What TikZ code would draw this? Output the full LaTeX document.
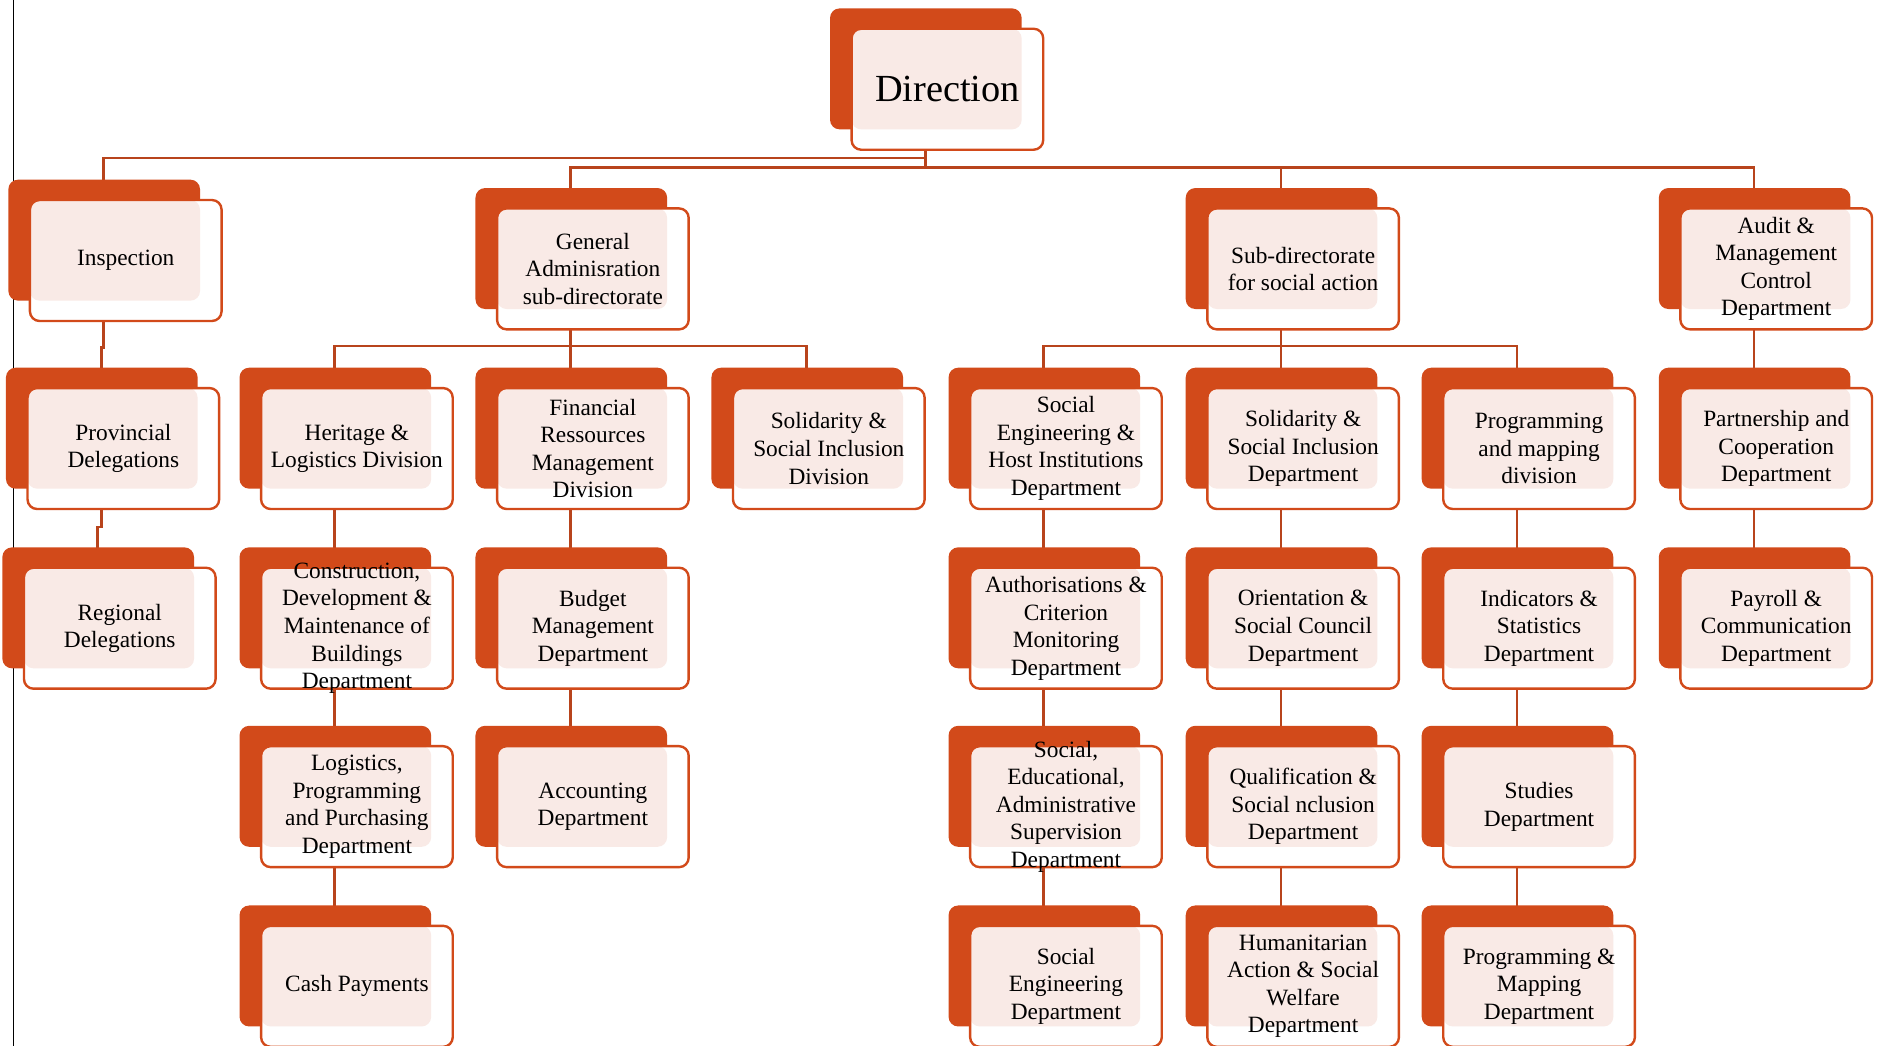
\documentclass[tikz,border=0pt]{standalone}
\usepackage{fontspec}
\setmainfont{Liberation Serif}
\usepackage{tikz}
\usetikzlibrary{shadows,backgrounds}
\definecolor{boxorange}{HTML}{D24A1A}
\definecolor{linkorange}{HTML}{B8441C}
\definecolor{pinkfill}{HTML}{F9EAE6}

\begin{document}
\begin{tikzpicture}[x=1pt, y=-1pt]
      \tikzstyle{unit} = [draw=boxorange, line width=2pt, rounded corners=8pt, fill=white,
        minimum width=160pt, minimum height=101pt, anchor=north west, align=center, inner sep=2pt,
        font=\fontsize{19.5}{23}\selectfont,
        general shadow={fill=boxorange, shadow xshift=-18pt, shadow yshift=17pt},
        path picture={\fill[pinkfill, rounded corners=8pt] (path picture bounding box.north west)
          rectangle ([xshift=-18pt, yshift=17pt]path picture bounding box.south east);}]
      \tikzstyle{tall} = [inner ysep=-6pt]
      \tikzstyle{link} = [draw=linkorange, line width=2.2pt]

      \useasboundingbox (0,0) rectangle (1568,873);

      \node[unit, font=\fontsize{32}{38}\selectfont] (dir) at (710,23) {Direction};

      % second row
      \node[unit] (insp) at (24,166) {Inspection};
      \node[unit] (gen) at (414,173) {General\\Adminisration\\sub-directorate};
      \node[unit] (sub) at (1007,173) {Sub-directorate\\for social action};
      \node[unit] (aud) at (1402,173) {Audit \&\\Management\\Control\\Department};

      % third row
      \node[unit] (prov) at (22,323) {Provincial\\Delegations};
      \node[unit] (her) at (217,323) {Heritage \&\\Logistics Division};
      \node[unit] (fin) at (414,323) {Financial\\Ressources\\Management\\Division};
      \node[unit] (sol) at (611,323) {Solidarity \&\\Social Inclusion\\Division};
      \node[unit] (seng) at (809,323) {Social\\Engineering \&\\Host Institutions\\Department};
      \node[unit] (sold) at (1007,323) {Solidarity \&\\Social Inclusion\\Department};
      \node[unit] (prog) at (1204,323) {Programming\\and mapping\\division};
      \node[unit] (part) at (1402,323) {Partnership and\\Cooperation\\Department};

      % fourth row
      \node[unit] (reg) at (19,473) {Regional\\Delegations};
      \node[unit, tall] (cons) at (217,473) {Construction,\\Development \&\\Maintenance of\\Buildings\\Department};
      \node[unit] (bud) at (414,473) {Budget\\Management\\Department};
      \node[unit] (auth) at (809,473) {Authorisations \&\\Criterion\\Monitoring\\Department};
      \node[unit] (ori) at (1007,473) {Orientation \&\\Social Council\\Department};
      \node[unit] (ind) at (1204,473) {Indicators \&\\Statistics\\Department};
      \node[unit] (pay) at (1402,473) {Payroll \&\\Communication\\Department};

      % fifth row
      \node[unit] (logi) at (217,622) {Logistics,\\Programming\\and Purchasing\\Department};
      \node[unit] (acc) at (414,622) {Accounting\\Department};
      \node[unit, tall] (sedu) at (809,622) {Social,\\Educational,\\Administrative\\Supervision\\Department};
      \node[unit] (qual) at (1007,622) {Qualification \&\\Social nclusion\\Department};
      \node[unit] (stud) at (1204,622) {Studies\\Department};

      % last row
      \node[unit] (cash) at (217,772) {Cash Payments};
      \node[unit] (seng2) at (809,772) {Social\\Engineering\\Department};
      \node[unit] (hum) at (1007,772) {Humanitarian\\Action \& Social\\Welfare\\Department};
      \node[unit] (pmap) at (1204,772) {Programming \&\\Mapping\\Department};

      \coordinate (ja) at (0,132);
      \coordinate (jb) at (0,140);
      \coordinate (jc) at (0,290);
      \coordinate (jd) at (0,440);
      \coordinate (je) at (0,289);

      \begin{scope}[on background layer]
        \draw[black, line width=1pt] (11,0) -- (11,873);

        \draw[link] ([xshift=-18.5pt]dir.center) -- ([xshift=-18.5pt]dir.center |- jb);
        \draw[link] ([xshift=-18.5pt]dir.center |- ja) -| ([xshift=-18.5pt]insp.center);
        \foreach \c in {gen,sub,aud}
          \draw[link] ([xshift=-18.5pt]dir.center |- jb) -| ([xshift=-18.5pt]\c.center);

        \draw[link] ([xshift=-18.5pt]gen.center) -- ([xshift=-18.5pt]gen.center |- je);
        \foreach \c in {her,fin,sol}
          \draw[link] ([xshift=-18.5pt]gen.center |- je) -| ([xshift=-18.5pt]\c.center);
        \draw[link] ([xshift=-18.5pt]sub.center) -- ([xshift=-18.5pt]sub.center |- je);
        \foreach \c in {seng,sold,prog}
          \draw[link] ([xshift=-18.5pt]sub.center |- je) -| ([xshift=-18.5pt]\c.center);

        \draw[link] ([xshift=-18.5pt]insp.center) |- ([xshift=-18.5pt]prov.center |- jc) -- ([xshift=-18.5pt]prov.center);
        \draw[link] ([xshift=-18.5pt]prov.center) |- ([xshift=-18.5pt]reg.center |- jd) -- ([xshift=-18.5pt]reg.center);

        \foreach \a/\b in {aud/part, part/pay, her/cons, cons/logi, logi/cash, fin/bud, bud/acc,
            seng/auth, auth/sedu, sedu/seng2, sold/ori, ori/qual, qual/hum, prog/ind, ind/stud, stud/pmap}
          \draw[link] ([xshift=-18.5pt]\a.center) -- ([xshift=-18.5pt]\b.center);
      \end{scope}
\end{tikzpicture}
\end{document}
